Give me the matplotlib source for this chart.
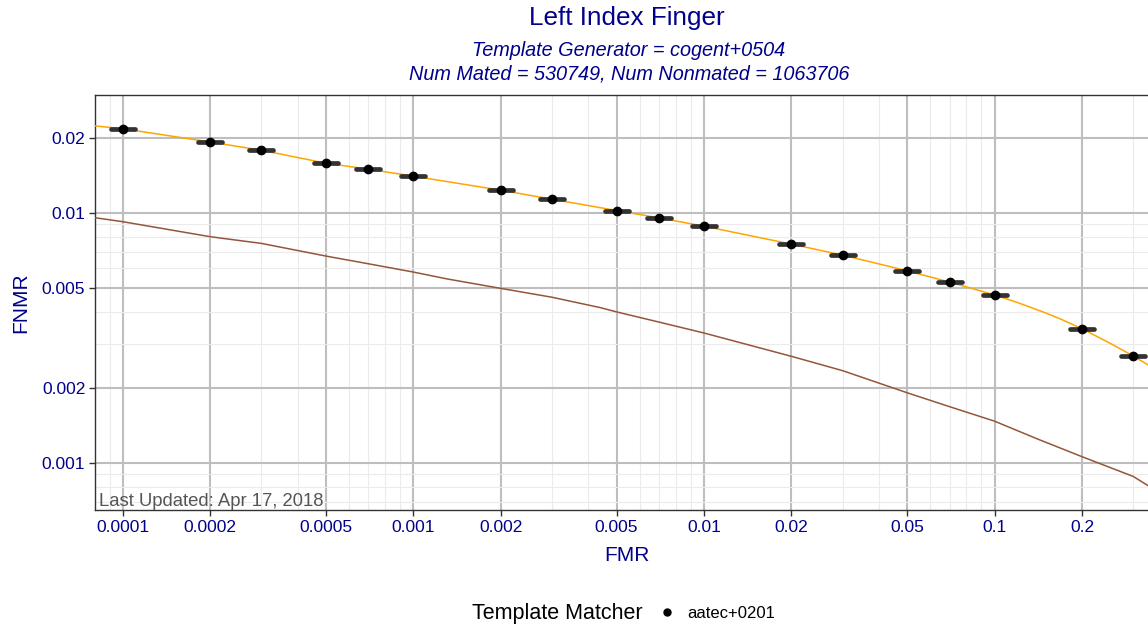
import matplotlib
matplotlib.use("Agg")
import matplotlib.pyplot as plt
from matplotlib.lines import Line2D
from matplotlib.markers import MarkerStyle
from matplotlib.ticker import FixedLocator, NullFormatter

plt.rcParams["font.family"] = ["Liberation Sans", "DejaVu Sans"]

# FMR values where the operating points sit
op_fmr = [0.0001, 0.0002, 0.0003, 0.0005, 0.0007, 0.001, 0.002, 0.003, 0.005,
          0.007, 0.01, 0.02, 0.03, 0.05, 0.07, 0.1, 0.2, 0.3]
op_fnmr = [0.02164, 0.01914, 0.01778, 0.01578, 0.01493, 0.0140, 0.0123, 0.01132,
           0.01021, 0.00953, 0.00883, 0.00748, 0.00676, 0.00585, 0.00527,
           0.00468, 0.00342, 0.00267]

# orange DET curve (aatec+0201)
det_fmr = [0.00008, 0.0001, 0.0002, 0.0003, 0.0005, 0.0007, 0.001, 0.002, 0.003,
           0.005, 0.007, 0.01, 0.02, 0.03, 0.05, 0.07, 0.1, 0.12, 0.15, 0.17,
           0.2, 0.25, 0.3, 0.337]
det_fnmr = [0.02228, 0.02170, 0.01920, 0.01780, 0.01580, 0.01495, 0.01402,
            0.01232, 0.01134, 0.01022, 0.00955, 0.00885, 0.00750, 0.00678,
            0.00587, 0.00529, 0.00470, 0.00438, 0.00398, 0.00375, 0.00344,
            0.00301, 0.00268, 0.00247]

# brown DET curve
det2_fmr = [0.00008, 0.0001, 0.0002, 0.0003, 0.0005, 0.0007, 0.001, 0.0013,
            0.002, 0.003, 0.0044, 0.005, 0.007, 0.01, 0.02, 0.03, 0.05, 0.07,
            0.1, 0.14, 0.2, 0.3, 0.337]
det2_fnmr = [0.00957, 0.00922, 0.00803, 0.00755, 0.00672, 0.00626, 0.00580,
             0.00545, 0.00499, 0.00460, 0.00418, 0.00402, 0.00366, 0.00331,
             0.00267, 0.00234, 0.00191, 0.00168, 0.00147, 0.00125, 0.00106,
             0.000884, 0.000813]

x_breaks = [0.0001, 0.0002, 0.0005, 0.001, 0.002, 0.005, 0.01, 0.02, 0.05, 0.1, 0.2]
x_labels = ["0.0001", "0.0002", "0.0005", "0.001", "0.002", "0.005", "0.01",
            "0.02", "0.05", "0.1", "0.2"]
y_breaks = [0.001, 0.002, 0.005, 0.01, 0.02]
y_labels = ["0.001", "0.002", "0.005", "0.01", "0.02"]
minor_subs = [3, 4, 6, 7, 8, 9]

blue = "#00008B"

fig = plt.figure(figsize=(11.48, 6.24), dpi=100)
ax = fig.add_axes([95 / 1148, 114 / 624, 1064 / 1148, 415 / 624])

ax.plot(det2_fmr, det2_fnmr, color="#93563A", lw=1.1, zorder=3)
ax.plot(det_fmr, det_fnmr, color="orange", lw=1.1, zorder=3)
bar = MarkerStyle("_", capstyle="round")
ax.plot(op_fmr, op_fnmr, ls="none", marker=bar, ms=17.5, mew=3.4,
        color="#333333", zorder=4)
ax.plot(op_fmr, op_fnmr, ls="none", marker="o", ms=6, color="black", zorder=5)

ax.set_xscale("log")
ax.set_yscale("log")
ax.set_xlim(0.0000802, 0.368)
ax.set_ylim(0.000649, 0.0296)

x_minor = [m * 10.0 ** e for e in range(-5, 1) for m in minor_subs]
y_minor = [m * 10.0 ** e for e in range(-4, -1) for m in minor_subs]
ax.xaxis.set_major_locator(FixedLocator(x_breaks))
ax.xaxis.set_minor_locator(FixedLocator(x_minor))
ax.yaxis.set_major_locator(FixedLocator(y_breaks))
ax.yaxis.set_minor_locator(FixedLocator(y_minor))
ax.set_xticklabels(x_labels)
ax.set_yticklabels(y_labels)
ax.xaxis.set_minor_formatter(NullFormatter())
ax.yaxis.set_minor_formatter(NullFormatter())

ax.grid(which="major", color="#BEBEBE", lw=1.5, zorder=0)
ax.grid(which="minor", color="#EBEBEB", lw=0.8, zorder=0)
ax.set_axisbelow(True)

ax.tick_params(which="major", length=4, width=1, color="#333333",
               labelsize=12.5, labelcolor=blue, pad=3)
ax.tick_params(which="minor", length=0)
ax.tick_params(axis="x", top=False)
ax.tick_params(axis="y", right=False)
for side in ["left", "top", "bottom"]:
    ax.spines[side].set_color("#333333")
    ax.spines[side].set_linewidth(1.0)
ax.spines["right"].set_visible(False)

ax.set_xlabel("FMR", fontsize=15, color=blue, labelpad=8)
ax.set_ylabel("FNMR", fontsize=15, color=blue, labelpad=8)

ax.text(4 / 1064, 0.0, "Last Updated: Apr 17, 2018",
        transform=ax.transAxes, fontsize=13.3, color="#555555",
        ha="left", va="bottom")

fig.text(627 / 1148, 1 - 18 / 624, "Left Index Finger", fontsize=18.8,
         color=blue, ha="center", va="center")
fig.text(629 / 1148, 1 - 51 / 624, "Template Generator = cogent+0504",
         fontsize=14.3, color=blue, style="italic", ha="center", va="center")
fig.text(629 / 1148, 1 - 74 / 624, "Num Mated = 530749, Num Nonmated = 1063706",
         fontsize=14.3, color=blue, style="italic", ha="center", va="center")

fig.text(643 / 1148, 1 - 613 / 624, "Template Matcher", fontsize=15.5,
         color="black", ha="right", va="center")
handle = Line2D([], [], ls="none", marker="o", ms=5, color="black")
fig.legend(handles=[handle], labels=["aatec+0201"], loc="center left",
           bbox_to_anchor=(642 / 1148, 1 - 613 / 624), frameon=False,
           fontsize=12, handlelength=1.2, handletextpad=0.6)

fig.savefig("out.png", dpi=100)
